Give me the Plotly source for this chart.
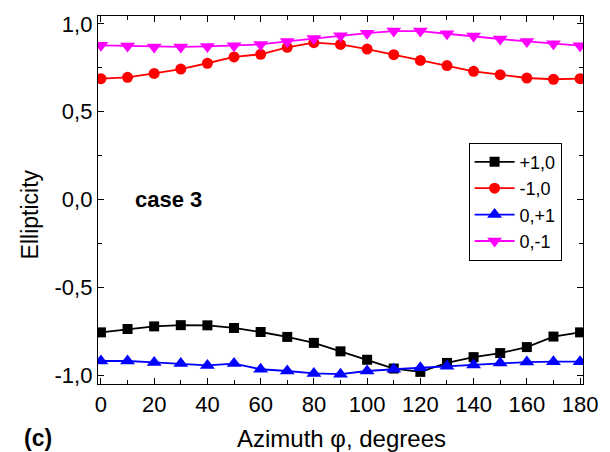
import plotly.graph_objects as go

azimuth = [0, 10, 20, 30, 40, 50, 60, 70, 80, 90, 100, 110, 120, 130, 140, 150, 160, 170, 180]

s_p10 = [-0.756, -0.737, -0.722, -0.715, -0.716, -0.731, -0.754, -0.782, -0.816, -0.864,
         -0.912, -0.962, -0.981, -0.930, -0.897, -0.874, -0.840, -0.780, -0.756]
s_m10 = [0.688, 0.696, 0.718, 0.743, 0.776, 0.812, 0.827, 0.867, 0.893, 0.883,
         0.857, 0.825, 0.792, 0.763, 0.730, 0.711, 0.692, 0.685, 0.688]
s_0p1 = [-0.919, -0.919, -0.927, -0.934, -0.944, -0.934, -0.966, -0.976, -0.990, -0.994,
         -0.976, -0.966, -0.957, -0.949, -0.942, -0.930, -0.925, -0.923, -0.923]
s_0m1 = [0.878, 0.874, 0.869, 0.869, 0.872, 0.876, 0.883, 0.900, 0.917, 0.933,
         0.947, 0.959, 0.959, 0.944, 0.931, 0.914, 0.900, 0.887, 0.876]

series_names = ["+1,0", "-1,0", "0,+1", "0,-1"]
x_ticks = [0, 20, 40, 60, 80, 100, 120, 140, 160, 180]
x_ticktext = ["0", "20", "40", "60", "80", "100", "120", "140", "160", "180"]
y_ticks = [-1.0, -0.5, 0.0, 0.5, 1.0]
y_ticktext = ["-1,0", "-0,5", "0,0", "0,5", "1,0"]

FONT = "Liberation Sans, Arial, sans-serif"
L, R, T, B = 98, 16, 12, 68
W, H = 610, 452
pw, ph = W - L - R, H - T - B


def px_to_paper(xp, yp):
    return (xp - L) / pw, (H - B - yp) / ph


fig = go.Figure()
styles = [
    (s_p10, "black", "square", 10),
    (s_m10, "red", "circle", 11),
    (s_0p1, "blue", "triangle-up", 13),
    (s_0m1, "magenta", "triangle-down", 13),
]
for i, (name, (vals, col, sym, sz)) in enumerate(zip(series_names, styles)):
    fig.add_trace(go.Scatter(
        x=azimuth, y=vals, name=name, mode="lines+markers", legendgroup=f"g{i}",
        line=dict(color=col, width=1.8),
        marker=dict(color=col, symbol=sym, size=sz, line=dict(width=0)),
    ))

axis_common = dict(
    showline=True, linecolor="black", linewidth=1.3, mirror="ticks",
    ticks="inside", ticklen=6, tickwidth=1.2, tickcolor="black",
    showgrid=False, zeroline=False, ticklabeloverflow="allow",
    tickfont=dict(family=FONT, size=22, color="black"),
)

xt = px_to_paper(347, 439)
yt = px_to_paper(28, 213)
cc = px_to_paper(20, 439)

fig.update_layout(
    width=W, height=H,
    margin=dict(l=L, r=R, t=T, b=B),
    paper_bgcolor="white", plot_bgcolor="white",
    font=dict(family=FONT, size=21, color="black"),
    xaxis=dict(
        range=[-1.1, 181.1], tickvals=x_ticks, ticktext=x_ticktext,
        minor=dict(dtick=10, tick0=0, ticks="inside", ticklen=4, tickcolor="black", tickwidth=1.2),
        **axis_common,
    ),
    yaxis=dict(
        range=[-1.05, 1.045], tickvals=y_ticks, ticktext=y_ticktext,
        minor=dict(dtick=0.25, tick0=0, ticks="inside", ticklen=4, tickcolor="black", tickwidth=1.2),
        **axis_common,
    ),
    legend=dict(
        x=(477 - L) / pw, y=(H - B - 140) / ph, xanchor="left", yanchor="top",
        bordercolor="black", borderwidth=1, bgcolor="white",
        font=dict(family=FONT, size=18, color="black"),
        tracegroupgap=0, itemwidth=40,
    ),
    showlegend=True,
    annotations=[
        dict(x=12, y=0.0, xref="x", yref="y", text="<b>case 3</b>", showarrow=False,
             xanchor="left", yanchor="middle", font=dict(family=FONT, size=22, color="black")),
        dict(x=cc[0], y=cc[1], xref="paper", yref="paper", text="<b>(c)</b>", showarrow=False,
             xanchor="left", yanchor="middle", font=dict(family=FONT, size=23, color="black")),
        dict(x=xt[0], y=xt[1], xref="paper", yref="paper", text="Azimuth φ, degrees", showarrow=False,
             xanchor="center", yanchor="middle", font=dict(family=FONT, size=24, color="black")),
        dict(x=yt[0], y=yt[1], xref="paper", yref="paper", text="Ellipticity", showarrow=False,
             textangle=-90, xanchor="center", yanchor="middle", font=dict(family=FONT, size=23, color="black")),
    ],
)

fig.write_html("out.html")
